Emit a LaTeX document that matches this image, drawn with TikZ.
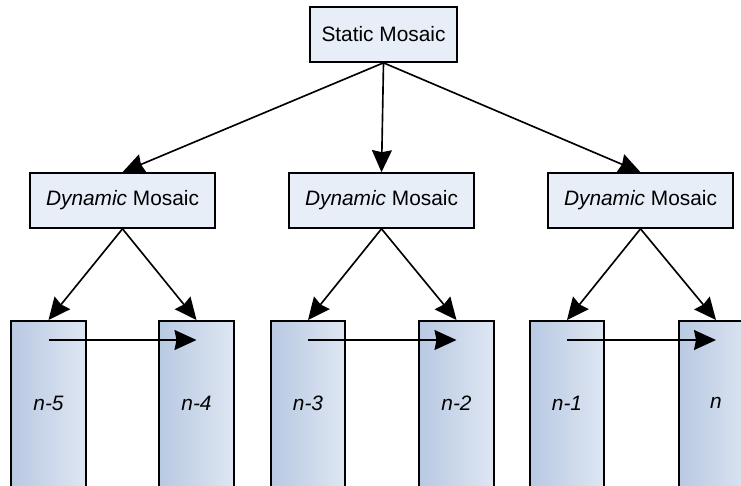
\documentclass[tikz,border=0pt]{standalone}
\usepackage{fontspec}
\setmainfont{Liberation Sans}
\usetikzlibrary{arrows.meta}

\definecolor{boxfill}{RGB}{232,238,248}
\definecolor{barleft}{RGB}{184,201,226}
\definecolor{barright}{RGB}{222,230,242}

\newcommand{\mosaicfont}{\fontsize{17.8}{21}\selectfont}

\tikzset{
  mosaic/.style={draw, line width=1.4pt, fill=boxfill, minimum width=5.55cm, minimum height=1.65cm, inner sep=0pt},
  topmosaic/.style={mosaic, minimum width=4.41cm},
  frame/.style={draw, line width=1.4pt, left color=barleft, right color=barright, minimum width=2.235cm, minimum height=5.4cm, inner sep=0pt, anchor=north},
  lbl/.style={font=\mosaicfont\itshape},
  arr/.style={line width=1.4pt, -{Stealth[length=0.66cm,width=0.6cm,inset=0.06cm]}}
}

\begin{document}
\begin{tikzpicture}[font=\mosaicfont]
\clip (0,0) rectangle (22.23,-14.58);

% mosaics
\node[topmosaic] (static) at (11.505,-1.035) {Static Mosaic};
\node[mosaic] (dynA) at (3.675,-6.015) {\textit{Dynamic} Mosaic};
\node[mosaic] (dynB) at (11.445,-6.015) {\textit{Dynamic} Mosaic};
\node[mosaic] (dynC) at (19.215,-6.015) {\textit{Dynamic} Mosaic};

% frames
\node[frame] (n5) at (1.455,-9.6) {};
\node[frame] (n4) at (5.895,-9.6) {};
\node[frame] (n3) at (9.24,-9.6) {};
\node[frame] (n2) at (13.695,-9.6) {};
\node[frame] (n1) at (17.01,-9.6) {};
\node[frame] (n0) at (21.48,-9.6) {};

\node[lbl] at ([yshift=-2.49cm]n5.north) {n-5};
\node[lbl] at ([yshift=-2.49cm]n4.north) {n-4};
\node[lbl] at ([yshift=-2.49cm]n3.north) {n-3};
\node[lbl] at ([yshift=-2.49cm]n2.north) {n-2};
\node[lbl] at ([yshift=-2.49cm]n1.north) {n-1};
\node[lbl] at ([yshift=-2.49cm]n0.north) {n};

% arrows
\foreach \d in {dynA,dynB,dynC}
  \draw[arr] (static.south) -- (\d.north);

\draw[arr] (dynA.south) -- (n5.north);
\draw[arr] (dynA.south) -- (n4.north);
\draw[arr] (dynB.south) -- (n3.north);
\draw[arr] (dynB.south) -- (n2.north);
\draw[arr] (dynC.south) -- (n1.north);
\draw[arr] (dynC.south) -- (n0.north);

\draw[arr] ([yshift=-0.6cm]n5.north) -- ([yshift=-0.6cm]n4.north);
\draw[arr] ([yshift=-0.6cm]n3.north) -- ([yshift=-0.6cm]n2.north);
\draw[arr] ([yshift=-0.6cm]n1.north) -- ([yshift=-0.6cm]n0.north);

\end{tikzpicture}
\end{document}
